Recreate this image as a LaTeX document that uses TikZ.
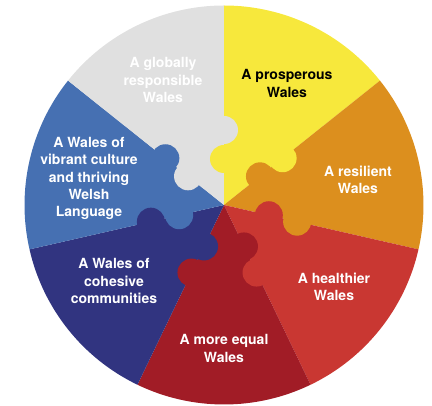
\documentclass[tikz,border=0pt]{standalone}
\usepackage{tikz}
\usepackage{xcolor}
\usepackage{fontspec}
\setmainfont{TeX Gyre Heros}
\definecolor{wgrey}{RGB}{224,224,224}
\definecolor{wyellow}{RGB}{247,232,60}
\definecolor{worange}{RGB}{220,143,30}
\definecolor{wred}{RGB}{201,55,50}
\definecolor{wdarkred}{RGB}{161,28,38}
\definecolor{wnavy}{RGB}{49,52,128}
\definecolor{wblue}{RGB}{70,112,178}

\begin{document}
\begin{tikzpicture}[x=0.75pt,y=0.75pt,
	goal/.style={text=white,align=center,font=\bfseries\fontsize{10.5}{12.9}\selectfont}]
	% (frame)
	\useasboundingbox (-224,-201) rectangle (208,205);
	% (wedges)
	\fill[wyellow] (0,0) -- (90:199.5) arc[start angle=90,end angle=38.571,radius=199.5] -- cycle;
	\fill[worange] (0,0) -- (38.571:199.5) arc[start angle=38.571,end angle=-12.857,radius=199.5] -- cycle;
	\fill[wred] (0,0) -- (-12.857:199.5) arc[start angle=-12.857,end angle=-64.286,radius=199.5] -- cycle;
	\fill[wdarkred] (0,0) -- (-64.286:199.5) arc[start angle=-64.286,end angle=-115.714,radius=199.5] -- cycle;
	\fill[wnavy] (0,0) -- (-115.714:199.5) arc[start angle=-115.714,end angle=-167.143,radius=199.5] -- cycle;
	\fill[wblue] (0,0) -- (-167.143:199.5) arc[start angle=-167.143,end angle=-218.571,radius=199.5] -- cycle;
	\fill[wgrey] (0,0) -- (141.429:199.5) arc[start angle=141.429,end angle=90,radius=199.5] -- cycle;
	% (knobs)
	\fill[wyellow] (90:46) circle (14);
	\fill[wgrey] (90:75) circle (14);
	\fill[worange] (38.571:46) circle (14);
	\fill[wyellow] (38.571:75) circle (14);
	\fill[wred] (-12.857:46) circle (14);
	\fill[worange] (-12.857:75) circle (14);
	\fill[wdarkred] (-64.286:46) circle (14);
	\fill[wred] (-64.286:75) circle (14);
	\fill[wnavy] (-115.714:46) circle (14);
	\fill[wdarkred] (-115.714:75) circle (14);
	\fill[wblue] (-167.143:46) circle (14);
	\fill[wnavy] (-167.143:75) circle (14);
	\fill[wgrey] (141.429:46) circle (14);
	\fill[wblue] (141.429:75) circle (14);
	% (labels)
	\node[goal] (global) at (-61,125) {A globally\\responsible\\Wales};
	\node[goal,text=black] (prosper) at (63,121.5) {A prosperous\\Wales};
	\node[goal] (resilient) at (134,25.5) {A resilient\\Wales};
	\node[goal] (healthier) at (110,-82) {A healthier\\Wales};
	\node[goal] (equal) at (0,-143.5) {A more equal\\Wales};
	\node[goal] (cohesive) at (-110,-76) {A Wales of\\cohesive\\communities};
	\node[goal] (culture) at (-135,26.5) {A Wales of\\vibrant culture\\and thriving\\Welsh\\Language};
\end{tikzpicture}
\end{document}
